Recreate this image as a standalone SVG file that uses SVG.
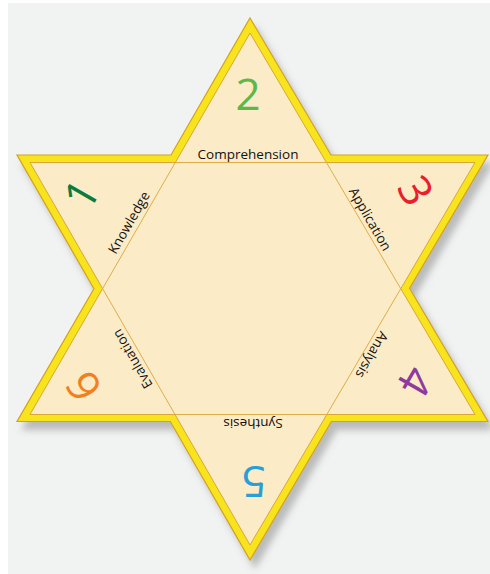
<svg xmlns="http://www.w3.org/2000/svg" width="490" height="574" viewBox="0 0 490 574">
<style>
.lbl{font-family:"Open Sans","Noto Sans","Liberation Sans",sans-serif;font-size:13.5px;fill:#111111;text-anchor:middle}
.num{font-family:"Open Sans","Noto Sans","Liberation Sans",sans-serif;font-size:44px;text-anchor:middle}
.band{fill:#f7e41a;stroke:#d4a021;stroke-width:1.2;stroke-linejoin:miter}
.inner{fill:#fcebc7;stroke:#d9a63a;stroke-width:1}
.hex{fill:none;stroke:#d9a63a;stroke-width:0.9}
</style>
<defs>
<filter id="shadow" x="-10%" y="-10%" width="125%" height="125%">
<feDropShadow dx="5" dy="8" stdDeviation="3.5" flood-color="#777" flood-opacity="0.45"/>
</filter>
</defs>
<rect width="490" height="574" fill="#ffffff"/>
<rect x="8" y="3" width="482" height="571" fill="#f1f2f2"/>
<g id="star">
<polygon class="band" filter="url(#shadow)" points="250,18 331,155 488,155 409.6,288.3 488,421.5 331.4,421.5 250,560 170.3,421.5 17,421.5 93.9,288.7 17,155 171,155"/>
<polygon class="inner" points="250,33 326.4,162.5 475,162.5 400.8,288.7 475,414.5 326.8,414.5 250,545 175,414.5 30,414.5 102.6,288.6 30,162.5 175.3,162.5"/>
</g>
<g id="connectors">
<polygon class="hex" points="175.3,162.5 326.4,162.5 400.8,288.7 326.8,414.5 175,414.5 102.6,288.6"/>
</g>
<g id="knowledge">
<text class="num" fill="#0b7b40" transform="translate(95,202) rotate(-60)">1</text>
<text class="lbl" transform="translate(133,225) rotate(-60)">Knowledge</text>
</g>
<g id="comprehension">
<text class="num" fill="#5cb848" x="248" y="110">2</text>
<text class="lbl" x="248" y="158.5">Comprehension</text>
</g>
<g id="application">
<text class="num" fill="#e8202a" transform="translate(402,198.5) rotate(60)">3</text>
<text class="lbl" transform="translate(366,221.5) rotate(60)">Application</text>
</g>
<g id="analysis">
<text class="num" fill="#8e3a9e" transform="translate(402,373.7) rotate(120)">4</text>
<text class="lbl" transform="translate(367.7,352.5) rotate(120)">Analysis</text>
</g>
<g id="synthesis">
<text class="num" fill="#2a9fd6" transform="translate(254,465.7) rotate(180)">5</text>
<text class="lbl" transform="translate(253,419) rotate(180)">Synthesis</text>
</g>
<g id="evaluation">
<text class="num" fill="#f08020" transform="translate(97.2,378.7) rotate(-120)">6</text>
<text class="lbl" transform="translate(136.5,356.5) rotate(-120)">Evaluation</text>
</g>
</svg>
